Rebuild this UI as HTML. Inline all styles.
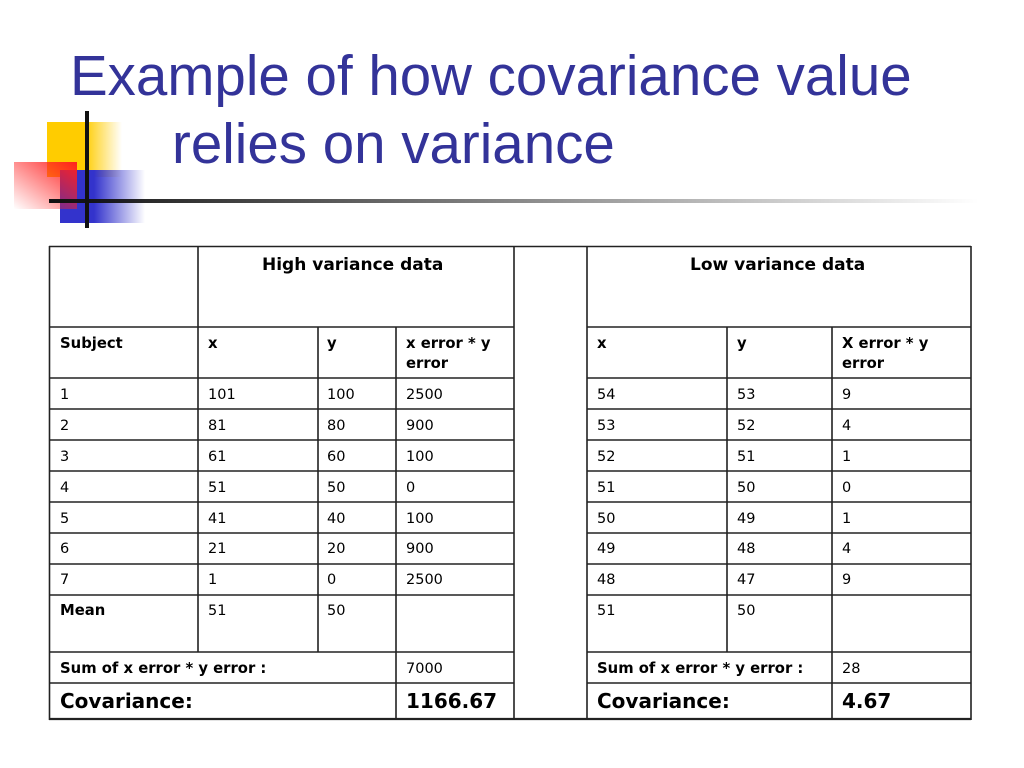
<!DOCTYPE html>
<html><head><meta charset="utf-8"><style>
body{margin:0;width:1024px;height:768px;background:#fff;position:relative;overflow:hidden;font-family:"DejaVu Sans","Liberation Sans",sans-serif;}
.t{position:absolute;color:#333399;font-family:"Liberation Sans",sans-serif;font-size:56.5px;line-height:1;white-space:nowrap;}
.c{position:absolute;font-size:14.5px;color:#000;line-height:20px;white-space:nowrap;}
.b{font-weight:bold;font-size:14.8px;}
.big{font-weight:bold;font-size:20px;}
</style></head><body>
<div class="t" style="left:70px;top:48px;">Example of how covariance value</div>
<div class="t" style="left:172px;top:116px;">relies on variance</div>
<svg width="1024" height="768" style="position:absolute;left:0;top:0">
<defs>
<linearGradient id="y" x1="0" x2="1"><stop offset="0.5" stop-color="#ffcc00"/><stop offset="1" stop-color="#ffcc00" stop-opacity="0"/></linearGradient>
<linearGradient id="bl" x1="0" x2="1"><stop offset="0.4" stop-color="#3333cc"/><stop offset="1" stop-color="#3333cc" stop-opacity="0"/></linearGradient>
<linearGradient id="r" x1="1" y1="0" x2="0" y2="1"><stop offset="0" stop-color="#ff2020"/><stop offset="1" stop-color="#ff2020" stop-opacity="0"/></linearGradient>
<linearGradient id="ln" x1="0" x2="1"><stop offset="0" stop-color="#111"/><stop offset="1" stop-color="#111" stop-opacity="0"/></linearGradient>
</defs>
<rect x="47" y="122" width="75" height="55" fill="url(#y)"/>
<rect x="60" y="170" width="85" height="53" fill="url(#bl)"/>
<rect x="14" y="162" width="63" height="47" fill="url(#r)"/>
<rect x="49" y="199" width="930" height="4" fill="url(#ln)"/>
<rect x="85" y="111" width="4" height="117" fill="#111"/>
<g stroke="#222" stroke-width="1.6" fill="none">
<line x1="49" y1="246.5" x2="971" y2="246.5"/>
<line x1="49" y1="719" x2="971" y2="719" stroke-width="2.2"/>
<line x1="49.5" y1="246" x2="49.5" y2="720"/>
<line x1="514" y1="246" x2="514" y2="720"/>
<line x1="587" y1="246" x2="587" y2="720"/>
<line x1="971" y1="246" x2="971" y2="720"/>
<line x1="198" y1="246" x2="198" y2="652"/>
<line x1="318" y1="327" x2="318" y2="652"/>
<line x1="396" y1="327" x2="396" y2="720"/>
<line x1="727" y1="327" x2="727" y2="652"/>
<line x1="832" y1="327" x2="832" y2="720"/>
<path d="M49 327H514M49 378H514M49 409H514M49 440H514M49 471H514M49 502H514M49 533H514M49 564H514M49 595H514M49 652H514M49 683H514"/>
<path d="M587 327H971M587 378H971M587 409H971M587 440H971M587 471H971M587 502H971M587 533H971M587 564H971M587 595H971M587 652H971M587 683H971"/>
</g>
</svg>
<div class="c b" style="left:262px;top:255px;font-size:17px">High variance data</div>
<div class="c b" style="left:690px;top:255px;font-size:17px">Low variance data</div>
<div class="c b" style="left:60px;top:334px">Subject</div>
<div class="c b" style="left:208px;top:334px">x</div>
<div class="c b" style="left:327px;top:334px">y</div>
<div class="c b" style="left:406px;top:334px">x error * y<br>error</div>
<div class="c b" style="left:597px;top:334px">x</div>
<div class="c b" style="left:737px;top:334px">y</div>
<div class="c b" style="left:842px;top:334px">X error * y<br>error</div>

<div class="c" style="left:60px;top:385px">1</div><div class="c" style="left:208px;top:385px">101</div><div class="c" style="left:327px;top:385px">100</div><div class="c" style="left:406px;top:385px">2500</div>
<div class="c" style="left:597px;top:385px">54</div><div class="c" style="left:737px;top:385px">53</div><div class="c" style="left:842px;top:385px">9</div>
<div class="c" style="left:60px;top:416px">2</div><div class="c" style="left:208px;top:416px">81</div><div class="c" style="left:327px;top:416px">80</div><div class="c" style="left:406px;top:416px">900</div>
<div class="c" style="left:597px;top:416px">53</div><div class="c" style="left:737px;top:416px">52</div><div class="c" style="left:842px;top:416px">4</div>
<div class="c" style="left:60px;top:447px">3</div><div class="c" style="left:208px;top:447px">61</div><div class="c" style="left:327px;top:447px">60</div><div class="c" style="left:406px;top:447px">100</div>
<div class="c" style="left:597px;top:447px">52</div><div class="c" style="left:737px;top:447px">51</div><div class="c" style="left:842px;top:447px">1</div>
<div class="c" style="left:60px;top:478px">4</div><div class="c" style="left:208px;top:478px">51</div><div class="c" style="left:327px;top:478px">50</div><div class="c" style="left:406px;top:478px">0</div>
<div class="c" style="left:597px;top:478px">51</div><div class="c" style="left:737px;top:478px">50</div><div class="c" style="left:842px;top:478px">0</div>
<div class="c" style="left:60px;top:509px">5</div><div class="c" style="left:208px;top:509px">41</div><div class="c" style="left:327px;top:509px">40</div><div class="c" style="left:406px;top:509px">100</div>
<div class="c" style="left:597px;top:509px">50</div><div class="c" style="left:737px;top:509px">49</div><div class="c" style="left:842px;top:509px">1</div>
<div class="c" style="left:60px;top:539px">6</div><div class="c" style="left:208px;top:539px">21</div><div class="c" style="left:327px;top:539px">20</div><div class="c" style="left:406px;top:539px">900</div>
<div class="c" style="left:597px;top:539px">49</div><div class="c" style="left:737px;top:539px">48</div><div class="c" style="left:842px;top:539px">4</div>
<div class="c" style="left:60px;top:570px">7</div><div class="c" style="left:208px;top:570px">1</div><div class="c" style="left:327px;top:570px">0</div><div class="c" style="left:406px;top:570px">2500</div>
<div class="c" style="left:597px;top:570px">48</div><div class="c" style="left:737px;top:570px">47</div><div class="c" style="left:842px;top:570px">9</div>
<div class="c b" style="left:60px;top:601px">Mean</div><div class="c" style="left:208px;top:601px">51</div><div class="c" style="left:327px;top:601px">50</div>
<div class="c" style="left:597px;top:601px">51</div><div class="c" style="left:737px;top:601px">50</div>
<div class="c b" style="left:60px;top:659px">Sum of x error * y error :</div><div class="c" style="left:406px;top:659px">7000</div>
<div class="c b" style="left:597px;top:659px">Sum of x error * y error :</div><div class="c" style="left:842px;top:659px">28</div>
<div class="c big" style="left:60px;top:691px">Covariance:</div><div class="c big" style="left:406px;top:691px">1166.67</div>
<div class="c big" style="left:597px;top:691px">Covariance:</div><div class="c big" style="left:842px;top:691px">4.67</div>
</body></html>
